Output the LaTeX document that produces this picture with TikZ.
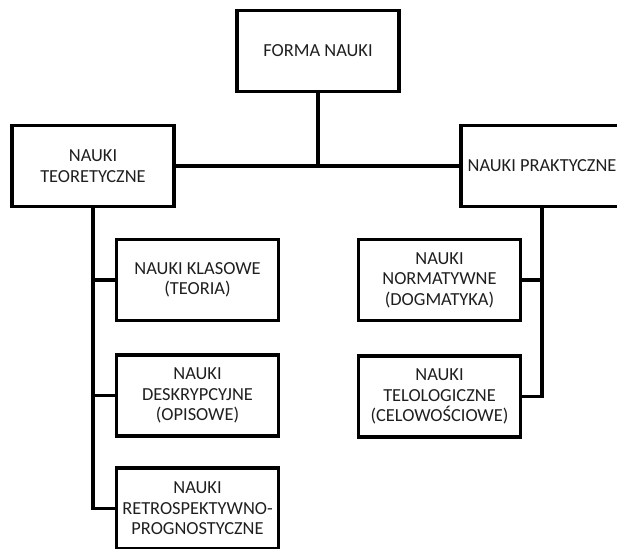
\documentclass[tikz,border=0pt]{standalone}
\usepackage{fontspec}
\setmainfont{Carlito}
\begin{document}
\begin{tikzpicture}[x=1pt,y=-1pt,
  box/.style={draw=black, line width=3.2pt, minimum width=162pt, minimum height=81pt,
    inner sep=0pt, align=center, font=\fontsize{18.4}{20.5}\selectfont, text=black!88},
  link/.style={draw=black, line width=3.2pt}]
\useasboundingbox (0,0) rectangle (617,548);
\node[box] (forma) at (318,51) {FORMA NAUKI};
\node[box] (teor) at (93,166) {NAUKI\\TEORETYCZNE};
\node[box] (prakt) at (542,166) {NAUKI PRAKTYCZNE};
\node[box] (klas) at (197.5,280) {NAUKI KLASOWE\\(TEORIA)};
\node[box] (desk) at (197.5,395.5) {NAUKI\\DESKRYPCYJNE\\(OPISOWE)};
\node[box] (retro) at (197.5,508.5) {NAUKI\\RETROSPEKTYWNO-\\PROGNOSTYCZNE};
\node[box] (norm) at (439.5,280) {NAUKI\\NORMATYWNE\\(DOGMATYKA)};
\node[box] (telo) at (439.5,396.5) {NAUKI\\TELOLOGICZNE\\(CELOWOŚCIOWE)};
\draw[link] (teor.east) -- (prakt.west);
\draw[link] (forma.south) -- (forma.south |- teor.east);
\draw[link] (teor.south) |- (retro.west);
\draw[link] (teor.south |- klas.west) -- (klas.west);
\draw[link] (teor.south |- desk.west) -- (desk.west);
\draw[link] (prakt.south) |- (telo.east);
\draw[link] (prakt.south |- norm.east) -- (norm.east);
\end{tikzpicture}
\end{document}
